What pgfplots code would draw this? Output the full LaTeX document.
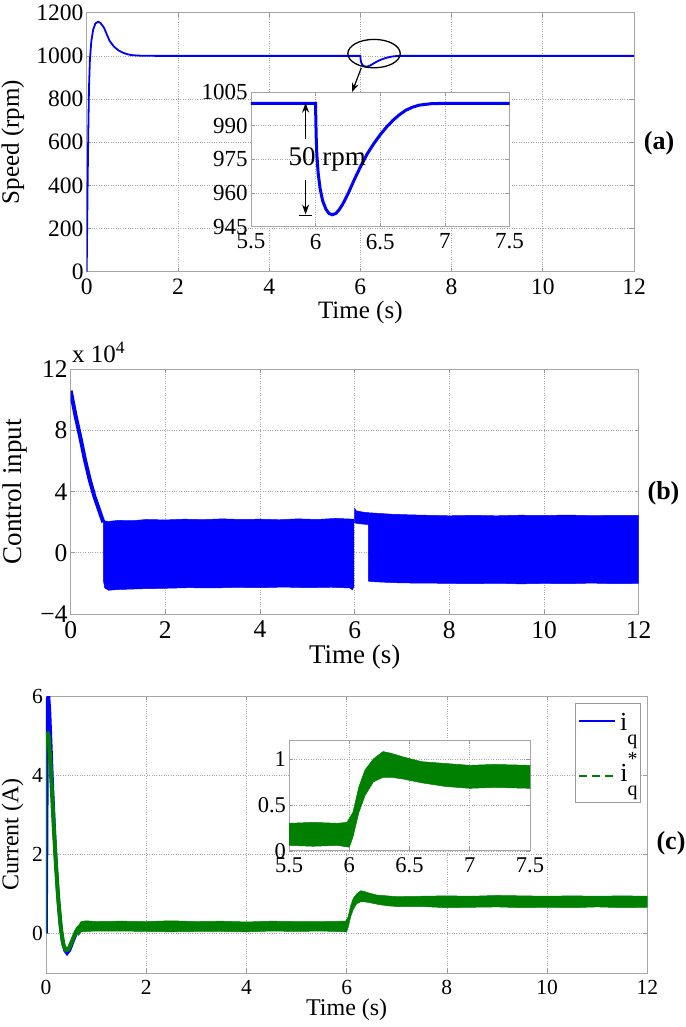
\documentclass[border=0pt]{standalone}
\usepackage{fontspec}
\setmainfont{Liberation Serif}
\usepackage{pgfplots}
\pgfplotsset{compat=1.18}
\usetikzlibrary{arrows.meta}
\definecolor{mblue}{RGB}{0,0,255}
\definecolor{mgreen}{RGB}{0,128,0}
\newcommand{\fs}[1]{\fontsize{#1}{#1}\selectfont}
\pgfplotsset{
  mstyle/.style={
    scale only axis,
    anchor=south west,
    axis line style={black!35, line width=0.8pt},
    tick style={black!40, line width=0.7pt},
    major tick length=4pt,
    tick align=inside,
    xtick pos=both, ytick pos=both,
    grid=major,
    major grid style={dotted, black!35, line width=0.7pt},
    /pgf/number format/assume math mode=true,
    /pgf/number format/1000 sep={},
    scaled ticks=false,
    yticklabel style={inner sep=1pt, xshift=-2pt},
    xticklabel style={inner sep=2pt, yshift=-5pt},
  }
}
\begin{document}
\begin{tikzpicture}
\useasboundingbox (0pt,0pt) rectangle (685pt,1027pt);

% ---------------- (a) ----------------
\begin{axis}[mstyle, at={(86.7pt,755.3pt)}, width=547.3pt, height=259pt,
  xmin=0, xmax=12, ymin=0, ymax=1200,
  xtick={0,2,...,12}, ytick={0,200,...,1200},
  tick label style={font=\fs{23.5}},
  xlabel={Time (s)}, ylabel={Speed (rpm)},
  label style={font=\fs{25}},
  xlabel style={at={(axis description cs:0.5,-0.156)}, anchor=center},
  ylabel style={at={(axis description cs:-0.1347,0.5)}, anchor=center}]
\addplot[mblue, line width=1.8pt] coordinates {
(0,0)(0.01,200)(0.02,400)(0.035,650)(0.05,850)(0.07,980)(0.1,1065)(0.14,1120)
(0.19,1150)(0.25,1158)(0.3,1153)(0.38,1130)(0.45,1095)(0.5,1070)(0.6,1042)
(0.7,1025)(0.8,1014)(0.9,1007)(1.0,1003)(1.2,1000.5)(1.5,1000)(6.0,1000)
(6.002,993)(6.005,985)(6.01,977)(6.02,969)(6.035,962)(6.055,956.5)(6.08,952.8)
(6.105,950.8)(6.13,950.3)(6.155,950.8)(6.18,952.3)(6.21,955)(6.25,959.5)(6.3,966)
(6.35,972)(6.4,977.5)(6.45,982)(6.5,986)(6.55,989.5)(6.6,992.5)(6.65,995)(6.7,997)
(6.75,998.3)(6.8,999.2)(6.9,999.9)(7.0,1000)(12,1000)};
\draw[black, line width=1.3pt] (axis cs:6.3,1010.5) ellipse [x radius=26.2pt, y radius=14.2pt];
\draw[black, line width=1.2pt, -{Stealth[length=9pt,width=7pt]}] (axis cs:6.02,944) -- (axis cs:5.82,833);
\end{axis}

\begin{axis}[mstyle, at={(250.9pt,800.4pt)}, width=258.6pt, height=134.4pt,
  xmin=5.5, xmax=7.5, ymin=945, ymax=1005,
  xtick={5.5,6,6.5,7,7.5}, ytick={945,960,975,990,1005},
  axis background/.style={fill=white},
  tick label style={font=\fs{23}}]
\addplot[mblue, line width=3pt] coordinates {
(5.5,1000)(6.0,1000)
(6.002,993)(6.005,985)(6.01,977)(6.02,969)(6.035,962)(6.055,956.5)(6.08,952.8)
(6.105,950.8)(6.13,950.3)(6.155,950.8)(6.18,952.3)(6.21,955)(6.25,959.5)(6.3,966)
(6.35,972)(6.4,977.5)(6.45,982)(6.5,986)(6.55,989.5)(6.6,992.5)(6.65,995)(6.7,997)
(6.75,998.3)(6.8,999.2)(6.9,999.9)(7.0,1000)(7.5,1000)};
\draw[black, line width=1.2pt, -{Stealth[length=10pt,width=7pt]}] (axis cs:5.923,984) -- (axis cs:5.923,1000.3);
\draw[black, line width=1.2pt, -{Stealth[length=10pt,width=7pt]}] (axis cs:5.923,966) -- (axis cs:5.923,950.4);
\draw[black, line width=1.2pt] (axis cs:5.87,950) -- (axis cs:5.975,950);
\node[font=\fs{27}] at (axis cs:6.09,975) {50 rpm};
\end{axis}
\node[font=\bfseries\fs{26}] at (659pt,884pt) {(a)};

% ---------------- (b) ----------------
\begin{axis}[mstyle, at={(70.7pt,413pt)}, width=568pt, height=244.7pt,
  xmin=0, xmax=12, ymin=-4, ymax=12,
  xtick={0,2,...,12}, ytick={-4,0,4,8,12}, yticklabels={−4,0,4,8,12},
  tick label style={font=\fs{25.5}},
  xlabel={Time (s)}, ylabel={Control input},
  label style={font=\fs{27}},
  xlabel style={at={(axis description cs:0.5,-0.176)}, anchor=center},
  ylabel style={at={(axis description cs:-0.098,0.5)}, anchor=center}]
\addplot[mblue, line width=4pt] coordinates {
(0,10.6)(0.1,9.0)(0.2,7.6)(0.3,6.1)(0.4,4.8)(0.5,3.7)(0.6,2.8)(0.69,2.0)};
\addplot[mblue, fill=mblue, line width=0.5pt] coordinates {
(0.69,2.1)(0.8,2.05)(1.0,2.12)(1.3,2.1)(1.6,2.18)(2.0,2.15)(2.4,2.2)(2.8,2.17)
(3.2,2.22)(3.6,2.18)(4.0,2.2)(4.4,2.16)(4.8,2.22)(5.2,2.18)(5.6,2.25)(5.98,2.2)
(5.98,-2.25)(5.95,-2.42)(5.9,-2.3)(5.5,-2.25)(5.0,-2.28)(4.5,-2.24)(4.0,-2.28)
(3.5,-2.26)(3.0,-2.3)(2.5,-2.28)(2.0,-2.32)(1.5,-2.35)(1.0,-2.4)(0.8,-2.45)
(0.72,-2.3)(0.69,-1.8)} -- cycle;
\addplot[mblue, fill=mblue, line width=0.5pt] coordinates {
(6.0,2.9)(6.03,2.75)(6.1,2.7)(6.2,2.65)(6.29,2.62)
(6.29,1.85)(6.2,1.87)(6.1,1.9)(6.0,1.95)} -- cycle;
\addplot[mblue, fill=mblue, line width=0.5pt] coordinates {
(6.29,2.62)(6.5,2.58)(6.8,2.52)(7.2,2.48)(7.6,2.45)(8.0,2.42)(8.5,2.45)(9.0,2.42)
(9.5,2.46)(10,2.44)(10.5,2.47)(11,2.43)(11.5,2.45)(12,2.44)
(12,-2.0)(11.5,-2.02)(11,-1.98)(10.5,-2.02)(10,-2.0)(9.5,-2.03)(9,-1.99)
(8.5,-2.02)(8,-2.0)(7.5,-1.98)(7,-1.97)(6.6,-1.92)(6.35,-1.88)(6.29,-1.85)} -- cycle;
\end{axis}
\node[anchor=base west, inner sep=0pt, font=\fs{25}] at (72pt,664pt) {x 10\textsuperscript{4}};
\node[font=\bfseries\fs{26}] at (663.5pt,534pt) {(b)};

% ---------------- (c) ----------------
\begin{axis}[mstyle, at={(46pt,54pt)}, width=601.3pt, height=277pt,
  xmin=0, xmax=12, ymin=-1, ymax=6,
  xtick={0,2,...,12}, ytick={0,2,4,6},
  tick label style={font=\fs{21.5}},
  xlabel={Time (s)}, ylabel={Current (A)},
  label style={font=\fs{24}},
  xlabel style={at={(axis description cs:0.5,-0.134)}, anchor=center},
  ylabel style={at={(axis description cs:-0.0554,0.5)}, anchor=center}]
\addplot[mblue, line width=3.5pt] coordinates {
(0,0)(0.01,2)(0.02,4.5)(0.03,5.9)(0.05,6.0)(0.07,5.6)(0.1,4.6)(0.13,3.6)(0.18,2.2)
(0.23,1.1)(0.28,0.3)(0.33,-0.2)(0.38,-0.43)(0.42,-0.5)(0.47,-0.42)(0.53,-0.22)
(0.6,0.0)(0.67,0.15)(0.72,0.18)(1.0,0.18)};
\addplot[mgreen, line width=1pt] coordinates {(0.01,0)(0.01,5.0)};
\addplot[mgreen, line width=4pt] coordinates {
(0.02,5.1)(0.05,5.0)(0.08,4.5)(0.11,3.8)(0.15,2.8)(0.2,1.7)(0.25,0.8)(0.3,0.1)
(0.35,-0.3)(0.4,-0.42)(0.45,-0.4)(0.5,-0.25)(0.55,-0.1)(0.6,0.05)(0.65,0.15)(0.7,0.18)};
\addplot[mgreen, fill=mgreen, line width=0.5pt] coordinates {
(0.62,0.05)(0.66,0.22)(0.7,0.3)(0.8,0.32)(1.0,0.3)(1.5,0.31)(2,0.3)(2.5,0.32)(3,0.3)
(3.5,0.31)(4,0.29)(4.5,0.31)(5,0.3)(5.5,0.3)(5.98,0.31)(6.03,0.42)(6.08,0.7)
(6.13,0.88)(6.2,1.0)(6.28,1.08)(6.35,1.06)(6.45,1.02)(6.6,0.97)(6.8,0.95)(7.0,0.93)
(7.5,0.94)(8,0.95)(8.5,0.94)(9,0.96)(9.5,0.95)(10,0.94)(10.5,0.95)(11,0.94)
(11.5,0.95)(12,0.94)
(12,0.66)(11.5,0.65)(11,0.67)(10.5,0.65)(10,0.66)(9.5,0.65)(9,0.67)(8.5,0.66)
(8,0.65)(7.5,0.68)(7,0.68)(6.8,0.7)(6.6,0.74)(6.45,0.78)(6.35,0.8)(6.28,0.8)
(6.2,0.75)(6.13,0.6)(6.08,0.42)(6.03,0.15)(6.0,0.04)(5.5,0.06)(5,0.05)(4.5,0.06)
(4,0.04)(3.5,0.05)(3,0.05)(2.5,0.04)(2,0.05)(1.5,0.06)(1,0.06)(0.8,0.05)(0.7,0.04)
(0.65,-0.05)} -- cycle;
\end{axis}
% legend of (c)
\node[draw=black!40, line width=0.8pt, fill=white, anchor=north east, inner xsep=3pt,
  inner ysep=2pt, font=\fs{26}, align=left] at (641pt,324.3pt) {%
\rule{0pt}{25pt}\tikz[baseline=-9pt]\draw[mblue, line width=1.8pt] (0,0) -- (36pt,0);%
\,i\raisebox{-0.55em}{\fs{20}q}\\[3pt]
\tikz[baseline=-5pt]\draw[mgreen, line width=2pt, dash pattern=on 8pt off 5pt] (0,0) -- (36pt,0);%
\,i\rlap{\raisebox{0.6em}{\fs{20}*}}\raisebox{-0.55em}{\fs{20}q}};

\begin{axis}[mstyle, at={(289.1pt,176.1pt)}, width=240.9pt, height=110.4pt,
  xmin=5.5, xmax=7.5, ymin=0, ymax=1.2,
  xtick={5.5,6,6.5,7,7.5}, ytick={0,0.5,1},
  axis background/.style={fill=white},
  tick label style={font=\fs{22.5}}]
\addplot[mgreen, fill=mgreen, line width=0.5pt] coordinates {
(5.5,0.3)(5.7,0.31)(5.9,0.3)(5.98,0.31)(6.03,0.42)(6.08,0.7)
(6.13,0.88)(6.2,1.0)(6.28,1.08)(6.35,1.06)(6.45,1.02)(6.6,0.97)(6.8,0.95)(7.0,0.93)
(7.2,0.94)(7.5,0.93)
(7.5,0.68)(7.2,0.69)(7,0.68)(6.8,0.7)(6.6,0.74)(6.45,0.78)(6.35,0.8)(6.28,0.8)
(6.2,0.75)(6.13,0.6)(6.08,0.42)(6.03,0.15)(6.0,0.04)(5.9,0.06)(5.7,0.05)(5.5,0.06)} -- cycle;
\end{axis}
\node[font=\bfseries\fs{26}] at (671pt,184pt) {(c)};
\end{tikzpicture}
\end{document}
